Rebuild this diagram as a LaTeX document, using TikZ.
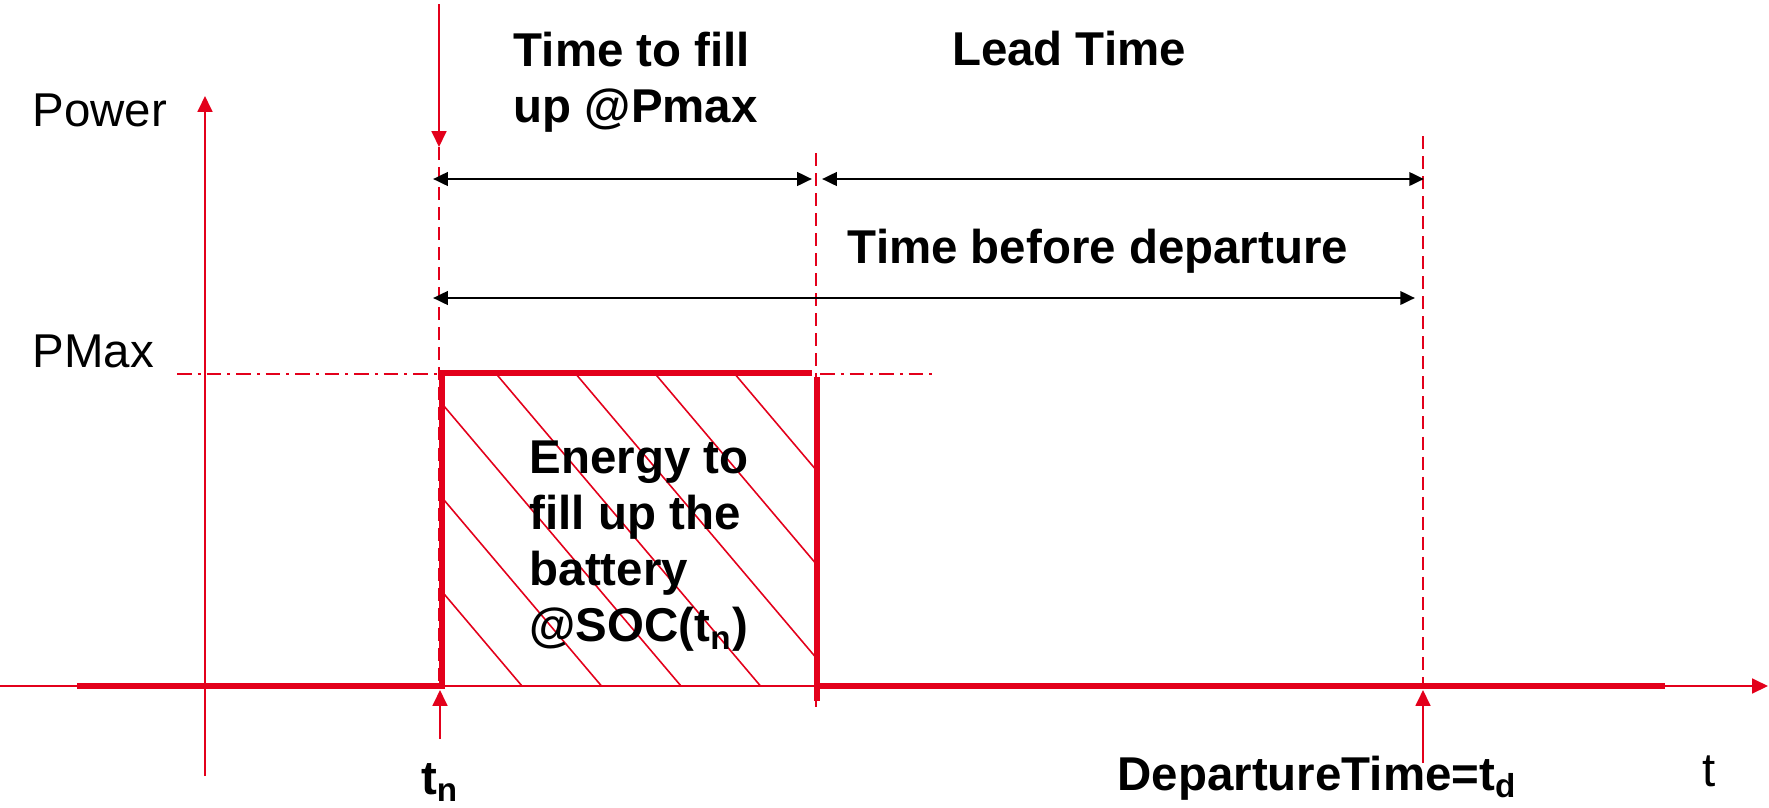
\documentclass[tikz,border=0pt]{standalone}
\usepackage{fontspec}
\setmainfont{Liberation Sans}
\usetikzlibrary{arrows.meta}
\definecolor{chartred}{RGB}{227,0,27}

\begin{document}
\begin{tikzpicture}[
    axis/.style={chartred, line width=0.6pt},
    power/.style={chartred, line width=1.6pt},
    marker/.style={chartred, line width=0.6pt, dash pattern=on 3.7pt off 2pt},
    level/.style={chartred, line width=0.6pt, dash pattern=on 4.2pt off 1.7pt on 0.8pt off 1.7pt},
    span/.style={black, line width=0.8pt, {Triangle[length=4.2pt,width=3.8pt]}-{Triangle[length=4.2pt,width=3.8pt]}},
    redtip/.style={axis, -{Triangle[length=4.5pt,width=4.2pt]}},
    lbl/.style={font=\fontsize{13.5}{16}\selectfont, inner sep=0pt},
    blbl/.style={font=\fontsize{13.5}{16}\selectfont\bfseries, inner sep=0pt}
]
    \useasboundingbox (0,0) rectangle (17.69,8.07);

    % axes
    \coordinate (xL) at (0,1.21); \coordinate (xR) at (17.68,1.21);
    \coordinate (yB) at (2.05,0.31); \coordinate (yT) at (2.05,7.11);
    \draw[redtip] (xL) -- (xR);
    \draw[redtip] (yB) -- (yT);

    % time marks
    \coordinate (tnTop) at (4.39,8.03); \coordinate (tnHead) at (4.39,6.60); \coordinate (tnAxis) at (4.39,1.21);
    \coordinate (tsTop) at (8.16,6.54); \coordinate (tsEnd) at (8.16,0.96);
    \coordinate (tdTop) at (14.23,6.71); \coordinate (tdAxis) at (14.23,1.21);
    \draw[redtip] (tnTop) -- (tnHead);
    \draw[marker] (tnHead) -- (tnAxis);
    \draw[marker] (tsTop) -- (tsEnd);
    \draw[marker] (tdTop) -- (tdAxis);
    \draw[redtip] (4.40,0.68) coordinate (tnFoot) -- (4.40,1.17) coordinate (tnUp);
    \draw[redtip] (14.23,0.44) coordinate (tdFoot) -- (14.23,1.17) coordinate (tdUp);

    % PMax level
    \coordinate (pmL) at (1.77,4.33); \coordinate (pmA) at (4.40,4.33);
    \coordinate (pmB) at (8.20,4.33); \coordinate (pmR) at (9.38,4.33);
    \draw[level] (pmL) -- (pmA);
    \draw[level] (pmB) -- (pmR);

    % charging pulse with hatching
    \coordinate (pBL) at (4.42,1.21); \coordinate (pTL) at (4.42,4.34);
    \coordinate (pTR) at (8.12,4.34); \coordinate (pBR) at (8.17,1.21);
    \begin{scope}
        \clip (pBL) rectangle (8.17,4.34);
        \foreach \x in {2.57,3.365,4.16,4.955,5.75,6.545,7.34}
            \draw[chartred, line width=0.45pt] (\x,4.34) -- ++(2.65,-3.13);
    \end{scope}
    \draw[power] (0.77,1.21) coordinate (baseL) -- (pBL) -- (pTL) -- (pTR);
    \draw[power] (8.17,4.30) coordinate (pRT) -- (8.17,1.06) coordinate (pRB);
    \draw[power] (pBR) -- (16.65,1.21) coordinate (baseR);

    % spans
    \coordinate (fA) at (4.33,6.28); \coordinate (fB) at (8.12,6.28);
    \coordinate (lA) at (8.22,6.28); \coordinate (lB) at (14.24,6.28);
    \coordinate (dA) at (4.33,5.09); \coordinate (dB) at (14.15,5.09);
    \draw[span] (fA) -- (fB);
    \draw[span] (lA) -- (lB);
    \draw[span] (dA) -- (dB);

    % labels
    \node[blbl, align=left, anchor=west] (fill) at (5.13,7.25) {Time to fill\\up @Pmax};
    \node[blbl, anchor=base] (lead) at (10.69,7.42) {Lead Time};
    \node[blbl, anchor=base] (before) at (10.98,5.44) {Time before departure};
    \node[lbl, anchor=base west] (power) at (0.32,6.81) {Power};
    \node[lbl, anchor=base west] (pmax) at (0.32,4.40) {PMax};
    \node[blbl, align=left, anchor=west] (energy) at (5.29,2.61) {Energy to\\fill up the\\battery\\@SOC(t\textsubscript{n})};
    \node[blbl, anchor=base] (tn) at (4.40,0.13) {t\textsubscript{n}};
    \node[blbl, anchor=base west] (depart) at (11.17,0.17) {DepartureTime=t\textsubscript{d}};
    \node[lbl, anchor=base] (t) at (17.09,0.21) {t};
\end{tikzpicture}
\end{document}
